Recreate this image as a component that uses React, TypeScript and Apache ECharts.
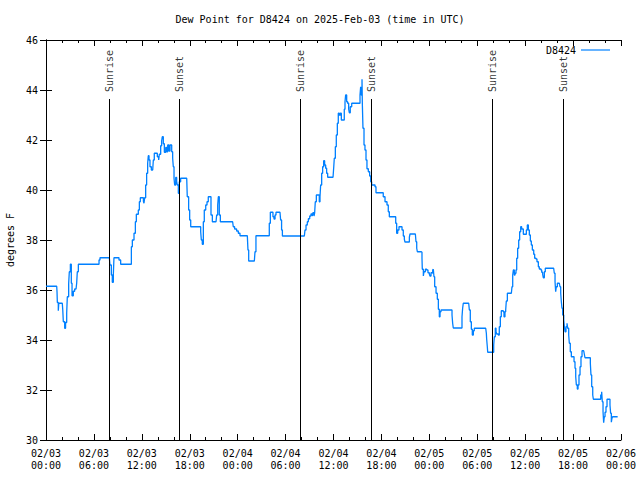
import React, { useEffect, useRef } from "react";
import * as echarts from "echarts";

// Hours since 2025-02-03 00:00 UTC
const sampleHours: number[] = [
  0, 1.34, 1.38, 1.42, 1.54, 1.6, 2.04, 2.1, 2.17, 2.34, 2.45, 2.59, 2.67, 2.84, 2.92, 3.05, 3.17, 3.26, 3.42, 3.59,
  3.76, 3.84, 3.92, 4.05, 6.55, 6.64, 6.76, 7.93, 8.01, 8.18, 8.3, 8.43, 8.51, 9.02, 9.14, 9.35, 10.6, 10.69, 10.81,
  11.02, 11.19, 11.31, 11.56, 11.69, 11.81, 12.1, 12.2, 12.27, 12.35, 12.48, 12.6, 12.73, 12.81, 12.9, 13.02, 13.19,
  13.36, 13.44, 13.56, 13.77, 13.94, 14.11, 14.19, 14.36, 14.48, 14.56, 14.69,
  14.82, 14.99, 15.11, 15.24, 15.4, 15.53, 15.74, 15.86, 15.94, 16.03, 16.11, 16.24, 16.36, 16.44, 16.57, 16.69,
  16.86, 17.62, 17.69, 17.86, 17.99, 18.12, 19.28, 19.37, 19.45, 19.57, 19.7, 19.82, 20.0, 20.16, 20.32, 20.54,
  20.66, 20.83, 21.29, 21.37, 21.5, 21.58, 21.7, 21.83, 23.37, 23.45, 23.62, 23.87, 24.08, 24.29, 25.21, 25.29,
  25.38, 26.09, 26.17, 26.29, 27.84, 27.96, 28.09, 28.3, 28.42, 28.55, 28.68, 28.8, 29.3,
  29.38, 29.5, 29.6, 32.35, 32.43, 32.56, 32.72, 32.85, 33.02, 33.18, 33.35, 33.43, 33.56, 33.64, 33.72, 33.85,
  34.1, 34.22, 34.31, 34.39, 34.52, 34.64, 34.77, 34.89, 35.02, 35.14, 35.27, 35.94, 36.02, 36.1, 36.23, 36.35,
  36.48, 36.6, 36.73, 36.85, 36.98, 37.23, 37.35, 37.44, 37.52, 37.65, 37.77, 37.9, 37.98, 38.1, 38.28, 39.23,
  39.32, 39.4, 39.48, 39.57, 39.61, 39.69, 39.82, 39.94, 40.07, 40.19, 40.36, 40.53, 40.66, 40.78, 41.2, 41.32,
  42.11, 42.23, 42.45, 42.7, 42.86, 42.99, 43.7,
  43.79, 43.91, 44.04, 44.2, 44.45, 44.58, 44.74, 44.87, 44.95, 45.37, 45.5, 45.58, 46.25, 46.33, 46.42, 46.5,
  47.0, 47.08, 47.12, 47.25, 47.33, 47.5, 47.67, 47.83, 48.0, 48.08, 48.21, 48.33, 48.42, 48.5, 48.58, 48.67,
  48.84, 49.0, 49.13, 49.25, 49.34, 49.46, 50.71, 50.84, 50.92, 51.0, 52.0, 52.09, 52.17, 52.25, 52.93, 53.01,
  53.13, 53.26, 53.38, 53.51, 53.63, 55.06, 55.14, 55.18, 55.26, 55.31, 55.93, 56.06, 56.14, 56.26, 56.35, 56.43,
  56.64, 56.76, 56.89, 57.01, 57.26, 57.35, 57.47,
  57.56, 57.64, 57.77, 58.27, 58.35, 58.44, 58.52, 58.64, 58.73, 58.85, 58.94, 59.06, 59.19, 59.31, 59.44, 59.56,
  59.77, 60.02, 60.15, 60.27, 60.4, 60.52, 60.65, 60.77, 60.9, 61.07, 61.19, 61.36, 61.48, 61.65, 61.77, 61.98,
  62.07, 62.19, 62.27, 62.4, 62.52, 63.57, 63.65, 63.74, 63.82, 63.9, 64.03, 64.28, 64.36, 64.45, 64.53, 64.61,
  64.7, 64.83, 64.91, 64.99, 65.11, 65.24, 65.32, 65.45, 65.53, 65.65, 65.78, 66.03, 66.12, 66.24, 66.33, 66.41,
  66.53, 66.62, 66.74, 66.87, 66.99, 67.12, 67.33, 67.41, 67.49, 68.04, 68.16, 68.24, 68.33, 68.46, 68.54, 69.37,
  69.46, 69.58, 69.66, 69.75, 69.83, 69.91, 70.0, 70.12, 70.25, 70.5, 70.62, 70.7, 70.79, 70.87, 70.95, 71.58,
];

const dewPointF: number[] = [
  36.15, 36.15, 35.93, 35.5, 35.17, 35.47, 35.47, 35.2, 34.73, 34.47, 34.7, 35.08, 35.73, 36.27, 36.73, 37.03, 36.27,
  35.77, 35.95, 36.04, 36.04, 36.27, 36.73, 37.03, 37.03, 37.2, 37.29, 37.29, 37.0, 36.6, 36.31, 36.6, 37.29, 37.29,
  37.2, 37.03, 37.03, 37.73, 38.0, 38.27, 38.73, 39.03, 39.2, 39.53, 39.69, 39.69, 39.55, 39.47, 39.69, 40.2, 40.67,
  41.07, 41.37, 41.2, 40.93, 40.8, 40.8, 41.2, 41.47, 41.47, 41.33, 41.2, 41.43, 41.77, 41.96, 42.13, 41.85,
  41.51, 41.7, 41.53, 41.8, 41.56, 41.8, 41.53, 41.27, 40.93, 40.47, 40.2, 40.5, 40.35, 40.2, 39.87, 40.33, 40.47,
  40.47, 39.73, 39.2, 38.8, 38.53, 38.53, 38.33, 38.0, 37.83, 38.73, 39.2, 39.4, 39.53, 39.73, 39.73, 39.0, 38.73,
  38.73, 39.0, 39.4, 39.73, 39.0, 38.73, 38.73, 38.53, 38.44, 38.36, 38.27, 38.17, 38.17, 37.6, 37.16, 37.16, 37.53,
  38.17, 38.17, 38.67, 39.11, 39.11, 38.93, 38.84, 39.0, 39.11, 39.11,
  38.8, 38.4, 38.16, 38.16, 38.4, 38.6, 38.73, 38.85, 38.96, 39.04, 38.96, 39.09, 38.96, 39.09, 39.53, 39.8, 39.8,
  39.53, 39.73, 40.2, 40.67, 40.93, 41.17, 41.0, 40.87, 40.67, 40.51, 40.51, 40.87, 41.27, 41.73, 42.2, 42.67,
  43.07, 43.0, 43.07, 42.8, 42.8, 43.23, 43.53, 43.8, 43.53, 43.47, 43.23, 43.09, 43.33, 43.47, 43.47, 43.8, 44.13,
  43.8, 44.43, 43.47, 42.47, 41.8, 41.6, 41.2, 40.85, 40.73, 40.56, 40.33, 40.2, 40.13, 39.89, 39.89, 39.73, 39.53,
  39.4, 39.13, 38.93, 38.93,
  38.67, 38.27, 38.4, 38.53, 38.53, 38.4, 38.16, 38.03, 37.92, 37.92, 38.11, 38.24, 38.24, 37.93, 37.67, 37.53,
  37.51, 37.27, 36.83, 36.56, 36.73, 36.83, 36.8, 36.69, 36.64, 36.56, 36.69, 36.67, 36.8, 36.83, 36.53, 36.13,
  35.87, 35.63, 35.23, 34.93, 35.13, 35.2, 35.2, 35.0, 34.67, 34.48, 34.48, 34.93, 35.27, 35.47, 35.47, 35.2, 34.73,
  34.43, 34.2, 34.37, 34.47, 34.47, 34.27, 34.03, 33.73, 33.51, 33.51, 33.8, 34.13, 34.47, 34.33, 34.24, 34.2,
  34.53, 34.93, 35.17, 35.13, 34.93, 35.13,
  35.2, 35.56, 35.87, 35.87, 36.13, 36.6, 36.8, 36.6, 36.67, 36.8, 37.27, 37.67, 38.0, 38.33, 38.53, 38.44, 38.23,
  38.23, 38.4, 38.6, 38.4, 38.2, 37.96, 37.8, 37.6, 37.43, 37.27, 37.24, 37.13, 36.93, 36.84, 36.8, 36.71, 36.63,
  36.49, 36.73, 36.87, 36.87, 36.67, 36.33, 35.93, 36.13, 36.27, 36.27, 36.13, 35.87, 35.53, 35.27, 35.0, 34.8,
  34.53, 34.33, 34.53, 34.67, 34.47, 34.2, 33.87, 33.53, 33.33, 33.33, 33.13, 32.87, 32.53, 32.2, 32.04, 32.2, 32.6,
  32.93, 33.33, 33.57, 33.57, 33.43, 33.29, 33.29, 33.07, 32.6, 32.13, 31.8, 31.63, 31.63, 31.8, 31.93, 31.53,
  31.13, 30.69, 30.93, 31.11, 31.33, 31.63, 31.63, 31.4, 31.07, 30.71, 30.87, 30.93, 30.93,
];

const sunriseHours: number[] = [7.93, 31.84, 55.89];
const sunsetHours: number[] = [16.69, 40.73, 64.78];

const xTickLabels: string[] = [
  "02/03\n00:00", "02/03\n06:00", "02/03\n12:00", "02/03\n18:00",
  "02/04\n00:00", "02/04\n06:00", "02/04\n12:00", "02/04\n18:00",
  "02/05\n00:00", "02/05\n06:00", "02/05\n12:00", "02/05\n18:00",
  "02/06\n00:00",
];

const seriesName = "D8424";
const titleText = "Dew Point for D8424 on 2025-Feb-03 (time in UTC)";
const yAxisName = "degrees F";

const FONT = "DejaVu Sans Mono";

export default function App() {
  const ref = useRef<HTMLDivElement>(null);

  useEffect(() => {
    document.body.style.margin = "0";
    if (!ref.current) return;
    const chart = echarts.init(ref.current, null, { renderer: "svg" });

    const lineData = sampleHours.map((h, i) => [h, dewPointF[i]]);
    const lineTop = 43.64;
    const labelBase = 43.92;
    const events = [
      ...sunriseHours.map((h) => ({ h, name: "Sunrise" })),
      ...sunsetHours.map((h) => ({ h, name: "Sunset" })),
    ];

    const axisCommon = {
      axisLine: { show: true, lineStyle: { color: "#000", width: 1 } },
      splitLine: { show: false },
    };

    chart.setOption({
      animation: false,
      backgroundColor: "#fff",
      title: {
        text: titleText,
        left: "center",
        top: 14,
        padding: 0,
        textStyle: { fontFamily: FONT, fontSize: 10, fontWeight: "normal", color: "#000" },
      },
      legend: {
        data: [{ name: seriesName, icon: "rect" }],
        right: 25,
        top: 40,
        align: "right",
        itemWidth: 29,
        itemHeight: 1.2,
        itemGap: 6,
        textStyle: { fontFamily: FONT, fontSize: 10, color: "#000" },
      },
      grid: {
        left: 46,
        right: 19,
        top: 40,
        bottom: 40,
        containLabel: false,
        outerBoundsMode: "none",
      },
      xAxis: [
        {
          type: "value",
          min: 0,
          max: 72,
          interval: 6,
          ...axisCommon,
          axisTick: { show: true, inside: true, length: 6, lineStyle: { color: "#000" } },
          minorTick: { show: true, splitNumber: 3, length: 3, lineStyle: { color: "#000" } },
          minorSplitLine: { show: false },
          axisLabel: {
            show: true,
            showMaxLabel: true,
            showMinLabel: true,
            margin: 7,
            fontFamily: FONT,
            fontSize: 10,
            lineHeight: 12,
            color: "#000",
            formatter: (v: number) => xTickLabels[Math.round(v / 6)] ?? "",
          },
        },
        {
          type: "value",
          position: "top",
          min: 0,
          max: 72,
          interval: 6,
          ...axisCommon,
          axisTick: { show: true, inside: true, length: 6, lineStyle: { color: "#000" } },
          minorTick: { show: true, splitNumber: 3, length: 3, lineStyle: { color: "#000" } },
          minorSplitLine: { show: false },
          axisLabel: { show: false },
        },
      ],
      yAxis: [
        {
          type: "value",
          min: 30,
          max: 46,
          interval: 2,
          ...axisCommon,
          axisTick: { show: true, inside: true, length: 6, lineStyle: { color: "#000" } },
          axisLabel: { margin: 8, fontFamily: FONT, fontSize: 10, color: "#000" },
          name: yAxisName,
          nameLocation: "middle",
          nameRotate: 90,
          nameGap: 31,
          nameTextStyle: { fontFamily: FONT, fontSize: 10, color: "#000" },
        },
        {
          type: "value",
          position: "right",
          min: 30,
          max: 46,
          interval: 2,
          ...axisCommon,
          axisTick: { show: true, inside: true, length: 6, lineStyle: { color: "#000" } },
          axisLabel: { show: false },
        },
      ],
      series: [
        {
          name: seriesName,
          type: "line",
          xAxisIndex: 0,
          yAxisIndex: 0,
          data: lineData,
          step: "end",
          symbol: "none",
          showSymbol: false,
          color: "#0080ff",
          lineStyle: { color: "#0080ff", width: 1.3 },
          clip: true,
        },
        {
          name: "events",
          type: "scatter",
          xAxisIndex: 0,
          yAxisIndex: 0,
          symbolSize: 0,
          silent: true,
          data: events.map((e) => ({ value: [e.h, labelBase], name: e.name })),
          label: {
            show: true,
            position: "inside",
            formatter: "{b}",
            rotate: 90,
            align: "left",
            verticalAlign: "middle",
            fontFamily: FONT,
            fontSize: 10,
            color: "#000",
          },
          markLine: {
            silent: true,
            symbol: "none",
            label: { show: false },
            lineStyle: { color: "#000", width: 1, type: "solid" },
            data: events.map((e) => [{ coord: [e.h, 30] }, { coord: [e.h, lineTop] }]),
          },
        },
      ],
    });

    return () => chart.dispose();
  }, []);

  return <div ref={ref} style={{ width: 640, height: 480 }} />;
}
